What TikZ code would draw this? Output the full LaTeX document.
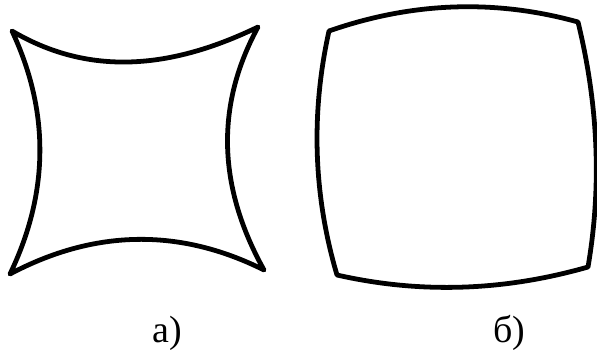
\documentclass[tikz,border=0pt]{standalone}
\usepackage{fontspec}
\setmainfont{Liberation Serif}
\usetikzlibrary{positioning}

\begin{document}
\begin{tikzpicture}[
    x=0.025cm, y=-0.025cm,
    outline/.style={draw=black, line width=3.4pt, line join=round, line cap=round},
    tag/.style={font=\fontsize{27}{32}\selectfont, anchor=base, inner sep=0pt},
]

\useasboundingbox (0,0) rectangle (597,349);

% Pincushion
\coordinate (a1) at (12,31);
\coordinate (a2) at (258,27);
\coordinate (a3) at (264,270);
\coordinate (a4) at (10,274);
\draw[outline] (a1) .. controls (85,74) and (165,72) .. (a2)
    .. controls (214,108) and (219,189) .. (a3)
    .. controls (180,228) and (95,229) .. (a4)
    .. controls (49,193) and (50,112) .. cycle;

% Barrel
\coordinate (b1) at (329,31);
\coordinate (b2) at (578,22);
\coordinate (b3) at (588,267);
\coordinate (b4) at (337,275);
\draw[outline] (b1) .. controls (412,2) and (495,-1) .. (b2)
    .. controls (598,104) and (602,185) .. (b3)
    .. controls (504,291) and (421,294) .. (b4)
    .. controls (313,194) and (311,112) .. cycle;

% Captions
\node[tag] (capa) at (167,342) {а)};
\node[tag] (capb) at (509,342) {б)};

\end{tikzpicture}
\end{document}
